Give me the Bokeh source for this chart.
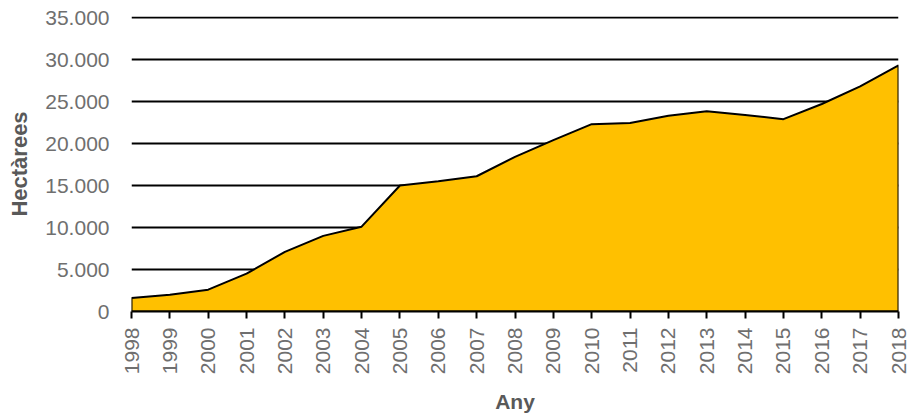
from bokeh.plotting import figure
from bokeh.models import Range1d, FixedTicker
from bokeh.embed import file_html
from bokeh.resources import INLINE
import math

years = [1998, 1999, 2000, 2001, 2002, 2003, 2004, 2005, 2006, 2007, 2008,
         2009, 2010, 2011, 2012, 2013, 2014, 2015, 2016, 2017, 2018]
hectares = [1600, 2000, 2600, 4500, 7100, 9000, 10100, 15000, 15500, 16100, 18400,
            20400, 22300, 22450, 23300, 23850, 23400, 22900, 24700, 26800, 29300]
y_ticks = [0, 5000, 10000, 15000, 20000, 25000, 30000, 35000]
y_tick_labels = ["0", "5.000", "10.000", "15.000", "20.000", "25.000", "30.000", "35.000"]

FONT = "Liberation Sans"
TICK_COLOR = "#6f6f6f"
TITLE_COLOR = "#595959"

p = figure(width=911, height=420, output_backend="svg", toolbar_location=None,
           x_range=Range1d(years[0], years[-1]), y_range=Range1d(0, 35120),
           min_border_left=131, min_border_right=13, min_border_top=16, min_border_bottom=109)
p.outline_line_color = None
p.background_fill_color = "white"
p.border_fill_color = "white"

# area polygon built from the data
poly_x = years + [years[-1], years[0]]
poly_y = hectares + [0, 0]
p.patch(poly_x, poly_y, fill_color="#FFC000", line_color="black", line_width=2)

# grid
p.xgrid.grid_line_color = None
p.ygrid.ticker = FixedTicker(ticks=y_ticks)
p.ygrid.grid_line_color = "black"
p.ygrid.grid_line_width = 2

# y axis
p.yaxis.ticker = FixedTicker(ticks=y_ticks)
p.yaxis.major_label_overrides = {t: l for t, l in zip(y_ticks, y_tick_labels)}
p.yaxis.axis_line_color = None
p.yaxis.major_tick_line_color = None
p.yaxis.minor_tick_line_color = None
p.yaxis.major_tick_out = 0
p.yaxis.major_label_standoff = 22
p.yaxis.major_label_text_font = FONT
p.yaxis.major_label_text_font_size = "21px"
p.yaxis.major_label_text_color = TICK_COLOR
p.yaxis.axis_label = "Hectàrees"
p.yaxis.axis_label_text_font = FONT
p.yaxis.axis_label_text_font_style = "bold"
p.yaxis.axis_label_text_font_size = "22px"
p.yaxis.axis_label_text_color = TITLE_COLOR
p.yaxis.axis_label_standoff = 10

# x axis
p.xaxis.ticker = FixedTicker(ticks=years)
p.xaxis.axis_line_color = "black"
p.xaxis.axis_line_width = 2
p.xaxis.major_tick_line_color = "black"
p.xaxis.major_tick_line_width = 2
p.xaxis.major_tick_out = 7
p.xaxis.major_tick_in = 0
p.xaxis.minor_tick_line_color = None
p.xaxis.major_label_orientation = math.pi / 2
p.xaxis.major_label_standoff = 9
p.xaxis.major_label_text_font = FONT
p.xaxis.major_label_text_font_size = "21px"
p.xaxis.major_label_text_color = TICK_COLOR
p.xaxis.axis_label = "Any"
p.xaxis.axis_label_text_font = FONT
p.xaxis.axis_label_text_font_style = "bold"
p.xaxis.axis_label_text_font_size = "21px"
p.xaxis.axis_label_text_color = TITLE_COLOR
p.xaxis.axis_label_standoff = 13

open("out.html", "w").write(file_html(p, INLINE))
